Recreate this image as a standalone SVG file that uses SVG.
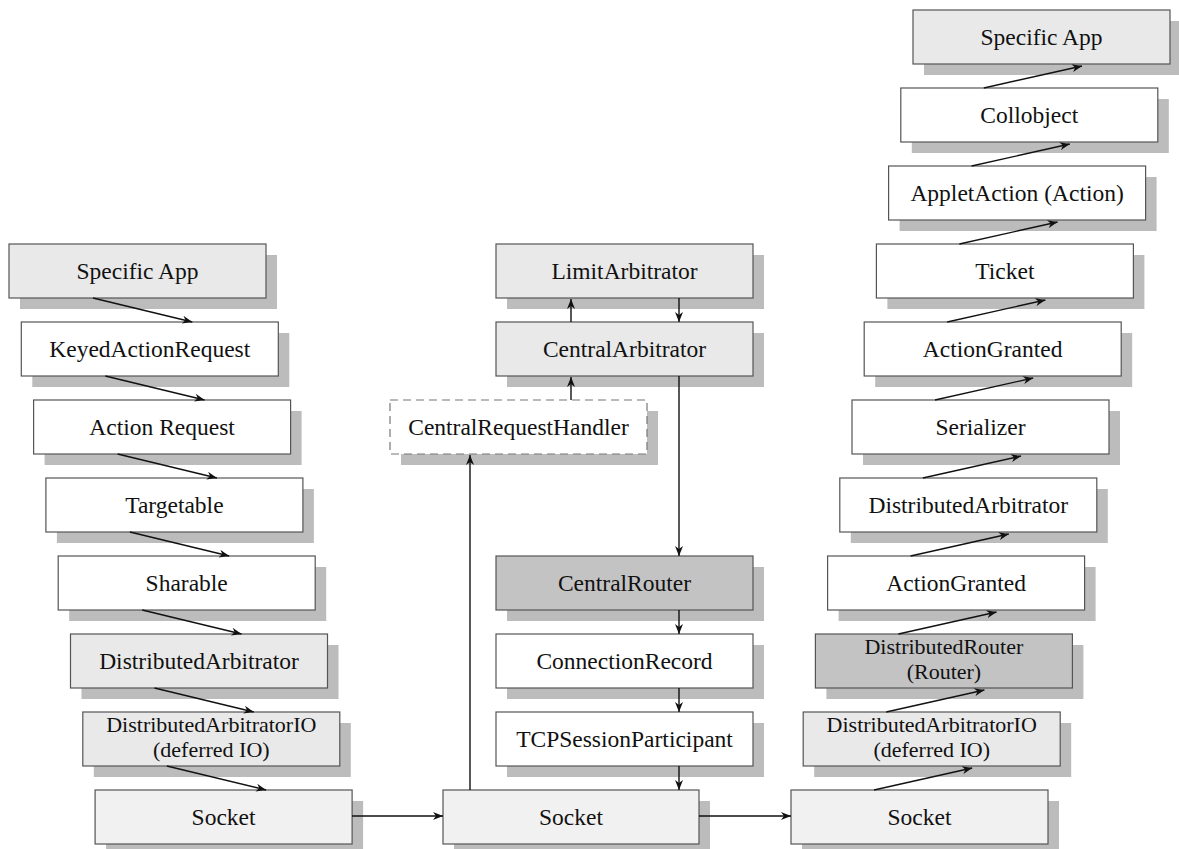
<svg xmlns="http://www.w3.org/2000/svg" width="1179" height="849" viewBox="0 0 1179 849">
  <style>
    .shadow { fill: #bcbcbc; }
    .box { stroke: #555; stroke-width: 1.2; }
    .light { fill: #e9e9e9; }
    .pale { fill: #f1f1f1; }
    .white { fill: #ffffff; }
    .dark { fill: #c3c3c3; }
    .dashed { fill: #ffffff; stroke: #777; stroke-width: 1.2; stroke-dasharray: 8 5; }
    text { font-family: "Liberation Serif", "Times New Roman", serif; font-size: 23.5px; fill: #111; text-anchor: middle; }
    text.two { font-size: 22px; }
    .conn { stroke: #111; stroke-width: 1.4; fill: none; marker-end: url(#arrow); }
  </style>
  <defs>
    <marker id="arrow" viewBox="0 0 10 8" refX="10" refY="4" markerWidth="11" markerHeight="8" markerUnits="userSpaceOnUse" orient="auto">
      <path d="M0,0 L10,4 L0,8 L3,4 z" fill="#111"/>
    </marker>
  </defs>
  <rect width="1179" height="849" fill="#ffffff"/>

  <!-- Left column: sending side -->
  <g id="l-specific-app"><rect class="shadow" x="20" y="255" width="257" height="54"/><rect class="box light" x="9" y="244" width="257" height="54"/><text x="137.5" y="279">Specific App</text></g>
  <g id="l-keyed-action-request"><rect class="shadow" x="32.3" y="333" width="257" height="54"/><rect class="box white" x="21.3" y="322" width="257" height="54"/><text x="149.8" y="357">KeyedActionRequest</text></g>
  <g id="l-action-request"><rect class="shadow" x="44.6" y="411" width="257" height="54"/><rect class="box white" x="33.6" y="400" width="257" height="54"/><text x="162.1" y="435">Action Request</text></g>
  <g id="l-targetable"><rect class="shadow" x="56.9" y="489" width="257" height="54"/><rect class="box white" x="45.9" y="478" width="257" height="54"/><text x="174.4" y="513">Targetable</text></g>
  <g id="l-sharable"><rect class="shadow" x="69.2" y="567" width="257" height="54"/><rect class="box white" x="58.2" y="556" width="257" height="54"/><text x="186.7" y="591">Sharable</text></g>
  <g id="l-distributed-arbitrator"><rect class="shadow" x="81.5" y="645" width="257" height="54"/><rect class="box light" x="70.5" y="634" width="257" height="54"/><text x="199" y="669">DistributedArbitrator</text></g>
  <g id="l-distributed-arbitrator-io"><rect class="shadow" x="93.8" y="723" width="257" height="54"/><rect class="box light" x="82.8" y="712" width="257" height="54"/><text class="two" x="211.3" y="732">DistributedArbitratorIO</text><text class="two" x="211.3" y="757">(deferred IO)</text></g>
  <g id="l-socket"><rect class="shadow" x="106.1" y="801" width="257" height="54"/><rect class="box pale" x="95.1" y="790" width="257" height="54"/><text x="223.6" y="825">Socket</text></g>

  <!-- Middle column: central arbitration -->
  <g id="m-limit-arbitrator"><rect class="shadow" x="507" y="255" width="257" height="54"/><rect class="box light" x="496" y="244" width="257" height="54"/><text x="624.5" y="279">LimitArbitrator</text></g>
  <g id="m-central-arbitrator"><rect class="shadow" x="507" y="333" width="257" height="54"/><rect class="box light" x="496" y="322" width="257" height="54"/><text x="624.5" y="357">CentralArbitrator</text></g>
  <g id="m-central-request-handler"><rect class="shadow" x="401" y="411" width="257" height="54"/><rect class="dashed" x="390" y="400" width="257" height="54"/><text x="518.5" y="435">CentralRequestHandler</text></g>
  <g id="m-central-router"><rect class="shadow" x="507" y="567" width="257" height="54"/><rect class="box dark" x="496" y="556" width="257" height="54"/><text x="624.5" y="591">CentralRouter</text></g>
  <g id="m-connection-record"><rect class="shadow" x="507" y="645" width="257" height="54"/><rect class="box white" x="496" y="634" width="257" height="54"/><text x="624.5" y="669">ConnectionRecord</text></g>
  <g id="m-tcp-session-participant"><rect class="shadow" x="507" y="723" width="257" height="54"/><rect class="box white" x="496" y="712" width="257" height="54"/><text x="624.5" y="747">TCPSessionParticipant</text></g>
  <g id="m-socket"><rect class="shadow" x="454" y="801" width="256" height="54"/><rect class="box pale" x="443" y="790" width="256" height="54"/><text x="571" y="825">Socket</text></g>

  <!-- Right column: receiving side -->
  <g id="r-specific-app"><rect class="shadow" x="924" y="21" width="257" height="54"/><rect class="box light" x="913" y="10" width="257" height="54"/><text x="1041.5" y="45">Specific App</text></g>
  <g id="r-collobject"><rect class="shadow" x="911.8" y="99" width="257" height="54"/><rect class="box white" x="900.8" y="88" width="257" height="54"/><text x="1029.3" y="123">Collobject</text></g>
  <g id="r-applet-action"><rect class="shadow" x="899.6" y="177" width="257" height="54"/><rect class="box white" x="888.6" y="166" width="257" height="54"/><text x="1017.1" y="201">AppletAction (Action)</text></g>
  <g id="r-ticket"><rect class="shadow" x="887.4" y="255" width="257" height="54"/><rect class="box white" x="876.4" y="244" width="257" height="54"/><text x="1004.9" y="279">Ticket</text></g>
  <g id="r-action-granted-1"><rect class="shadow" x="875.2" y="333" width="257" height="54"/><rect class="box white" x="864.2" y="322" width="257" height="54"/><text x="992.7" y="357">ActionGranted</text></g>
  <g id="r-serializer"><rect class="shadow" x="863" y="411" width="257" height="54"/><rect class="box white" x="852" y="400" width="257" height="54"/><text x="980.5" y="435">Serializer</text></g>
  <g id="r-distributed-arbitrator"><rect class="shadow" x="850.8" y="489" width="257" height="54"/><rect class="box white" x="839.8" y="478" width="257" height="54"/><text x="968.3" y="513">DistributedArbitrator</text></g>
  <g id="r-action-granted-2"><rect class="shadow" x="838.6" y="567" width="257" height="54"/><rect class="box white" x="827.6" y="556" width="257" height="54"/><text x="956.1" y="591">ActionGranted</text></g>
  <g id="r-distributed-router"><rect class="shadow" x="826.4" y="645" width="257" height="54"/><rect class="box dark" x="815.4" y="634" width="257" height="54"/><text class="two" x="943.9" y="654">DistributedRouter</text><text class="two" x="943.9" y="679">(Router)</text></g>
  <g id="r-distributed-arbitrator-io"><rect class="shadow" x="814.2" y="723" width="257" height="54"/><rect class="box light" x="803.2" y="712" width="257" height="54"/><text class="two" x="931.7" y="732">DistributedArbitratorIO</text><text class="two" x="931.7" y="757">(deferred IO)</text></g>
  <g id="r-socket"><rect class="shadow" x="802" y="801" width="257" height="54"/><rect class="box pale" x="791" y="790" width="257" height="54"/><text x="919.5" y="825">Socket</text></g>

  <!-- Connectors -->
  <g id="connectors">
    <!-- left column, top to bottom -->
    <line class="conn" x1="93" y1="298" x2="192.3" y2="322"/>
    <line class="conn" x1="105.3" y1="376" x2="204.6" y2="400"/>
    <line class="conn" x1="117.6" y1="454" x2="216.9" y2="478"/>
    <line class="conn" x1="129.9" y1="532" x2="229.2" y2="556"/>
    <line class="conn" x1="142.2" y1="610" x2="241.5" y2="634"/>
    <line class="conn" x1="154.5" y1="688" x2="253.8" y2="712"/>
    <line class="conn" x1="166.8" y1="766" x2="266.1" y2="790"/>
    <!-- sockets -->
    <line class="conn" x1="352" y1="816" x2="443" y2="816"/>
    <line class="conn" x1="699" y1="816" x2="791" y2="816"/>
    <!-- middle column -->
    <line class="conn" x1="470" y1="790" x2="470" y2="455"/>
    <line class="conn" x1="571" y1="400" x2="571" y2="377"/>
    <line class="conn" x1="571" y1="322" x2="571" y2="299"/>
    <line class="conn" x1="679" y1="298" x2="679" y2="322"/>
    <line class="conn" x1="679" y1="376" x2="679" y2="556"/>
    <line class="conn" x1="679" y1="610" x2="679" y2="634"/>
    <line class="conn" x1="679" y1="688" x2="679" y2="712"/>
    <line class="conn" x1="679" y1="766" x2="679" y2="790"/>
    <!-- right column, bottom to top -->
    <line class="conn" x1="874" y1="790" x2="972.2" y2="768"/>
    <line class="conn" x1="886.2" y1="712" x2="984.4" y2="690"/>
    <line class="conn" x1="898.4" y1="634" x2="996.6" y2="612"/>
    <line class="conn" x1="910.6" y1="556" x2="1008.8" y2="534"/>
    <line class="conn" x1="922.8" y1="478" x2="1021" y2="456"/>
    <line class="conn" x1="935" y1="400" x2="1033.2" y2="378"/>
    <line class="conn" x1="947.2" y1="322" x2="1045.4" y2="300"/>
    <line class="conn" x1="959.4" y1="244" x2="1057.6" y2="222"/>
    <line class="conn" x1="971.6" y1="166" x2="1069.8" y2="144"/>
    <line class="conn" x1="983.8" y1="88" x2="1082" y2="66"/>
  </g>
</svg>
